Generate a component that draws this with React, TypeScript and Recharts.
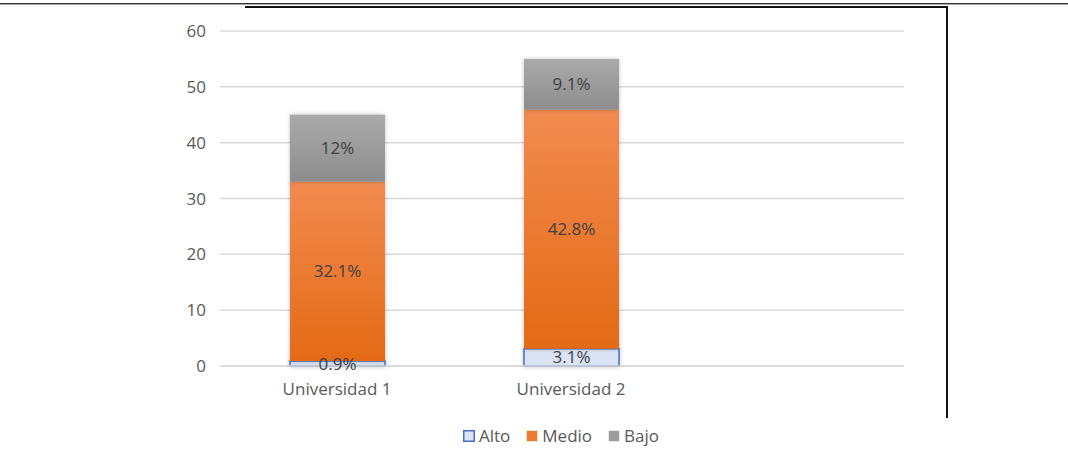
import {
  Bar,
  BarChart,
  CartesianGrid,
  LabelList,
  XAxis,
  YAxis,
} from "recharts";

const categories = ["Universidad 1", "Universidad 2", ""];
const alto = [0.9, 3.1, null];
const medio = [32.1, 42.8, null];
const bajo = [12, 9.1, null];
const yTicks = [0, 10, 20, 30, 40, 50, 60];

const data = categories.map((name, i) => ({
  name,
  Alto: alto[i],
  Medio: medio[i],
  Bajo: bajo[i],
}));

const FONT = "'Open Sans', Lato, sans-serif";

const pct = (v: unknown) => (v === null || v === undefined ? "" : `${v}%`);

const legendItems = [
  { name: "Alto", fill: "#dae3f3", stroke: "#4472c4" },
  { name: "Medio", fill: "#ec7a2f", stroke: "none" },
  { name: "Bajo", fill: "#9c9c9c", stroke: "none" },
];

const LegendBox = () => (
  <div
    style={{
      position: "absolute",
      left: 54,
      top: 425,
      width: 1014,
      display: "flex",
      justifyContent: "center",
      gap: 16,
      fontFamily: FONT,
      fontSize: 17,
      lineHeight: "22px",
      color: "#595959",
    }}
  >
    {legendItems.map((it) => (
      <span key={it.name} style={{ display: "flex", alignItems: "center" }}>
        <svg width={12} height={12} style={{ marginRight: 4 }}>
          <rect x={0.75} y={0.75} width={10.5} height={10.5} fill={it.fill} stroke={it.stroke} strokeWidth={1.5} />
        </svg>
        {it.name}
      </span>
    ))}
  </div>
);

const shadow = { filter: "drop-shadow(0px 0px 2px rgba(0,0,0,0.25))" };
const labelProps = { fill: "#404040", fontSize: 17, fontFamily: FONT };

export default function App() {
  return (
    <div style={{ position: "absolute", left: 0, top: 0, width: 1068, height: 453, background: "#fff" }}>
      {/* page frame lines */}
      <div style={{ position: "absolute", left: 0, top: 3, width: 1068, height: 1, background: "#333" }} />
      <div style={{ position: "absolute", left: 0, top: 4, width: 1068, height: 1, background: "#aaa" }} />
      <div style={{ position: "absolute", left: 245, top: 6, width: 703, height: 2, background: "#111" }} />
      <div style={{ position: "absolute", left: 946, top: 6, width: 2, height: 412, background: "#111" }} />

      <BarChart
        width={1068}
        height={453}
        data={data}
        margin={{ top: 31, right: 164, left: 0, bottom: 57 }}
        style={{ position: "absolute", left: 0, top: 0 }}
      >
        <defs>
          <linearGradient id="medioFill" x1="0" y1="0" x2="0" y2="1">
            <stop offset="0%" stopColor="#f28b50" />
            <stop offset="100%" stopColor="#e46a15" />
          </linearGradient>
          <linearGradient id="bajoFill" x1="0" y1="0" x2="0" y2="1">
            <stop offset="0%" stopColor="#aaaaaa" />
            <stop offset="100%" stopColor="#8d8d8d" />
          </linearGradient>
        </defs>
        <CartesianGrid vertical={false} stroke="#d9d9d9" strokeWidth={1.5} />
        <XAxis
          dataKey="name"
          height={30}
          axisLine={{ stroke: "#d9d9d9", strokeWidth: 1.5 }}
          tickLine={false}
          tickSize={0}
          tickMargin={17}
          padding={{ left: 0, right: -18 }}
          tick={{ fill: "#595959", fontSize: 17, fontFamily: FONT }}
        />
        <YAxis
          domain={[0, 60]}
          ticks={yTicks}
          width={220}
          axisLine={false}
          tickLine={false}
          tickSize={0}
          tickMargin={14}
          tick={{ fill: "#595959", fontSize: 17, fontFamily: FONT }}
        />
        <Bar
          dataKey="Alto"
          stackId="a"
          barSize={95}
          fill="#dae3f3"
          stroke="#4472c4"
          strokeWidth={1.5}
          isAnimationActive={false}
          style={shadow}
        >
          <LabelList dataKey="Alto" position="center" formatter={pct} {...labelProps} />
        </Bar>
        <Bar
          dataKey="Medio"
          stackId="a"
          barSize={95}
          fill="url(#medioFill)"
          isAnimationActive={false}
          style={shadow}
        >
          <LabelList dataKey="Medio" position="center" formatter={pct} {...labelProps} />
        </Bar>
        <Bar
          dataKey="Bajo"
          stackId="a"
          barSize={95}
          fill="url(#bajoFill)"
          isAnimationActive={false}
          style={shadow}
        >
          <LabelList dataKey="Bajo" position="center" formatter={pct} {...labelProps} />
        </Bar>
      </BarChart>
      <LegendBox />
    </div>
  );
}
